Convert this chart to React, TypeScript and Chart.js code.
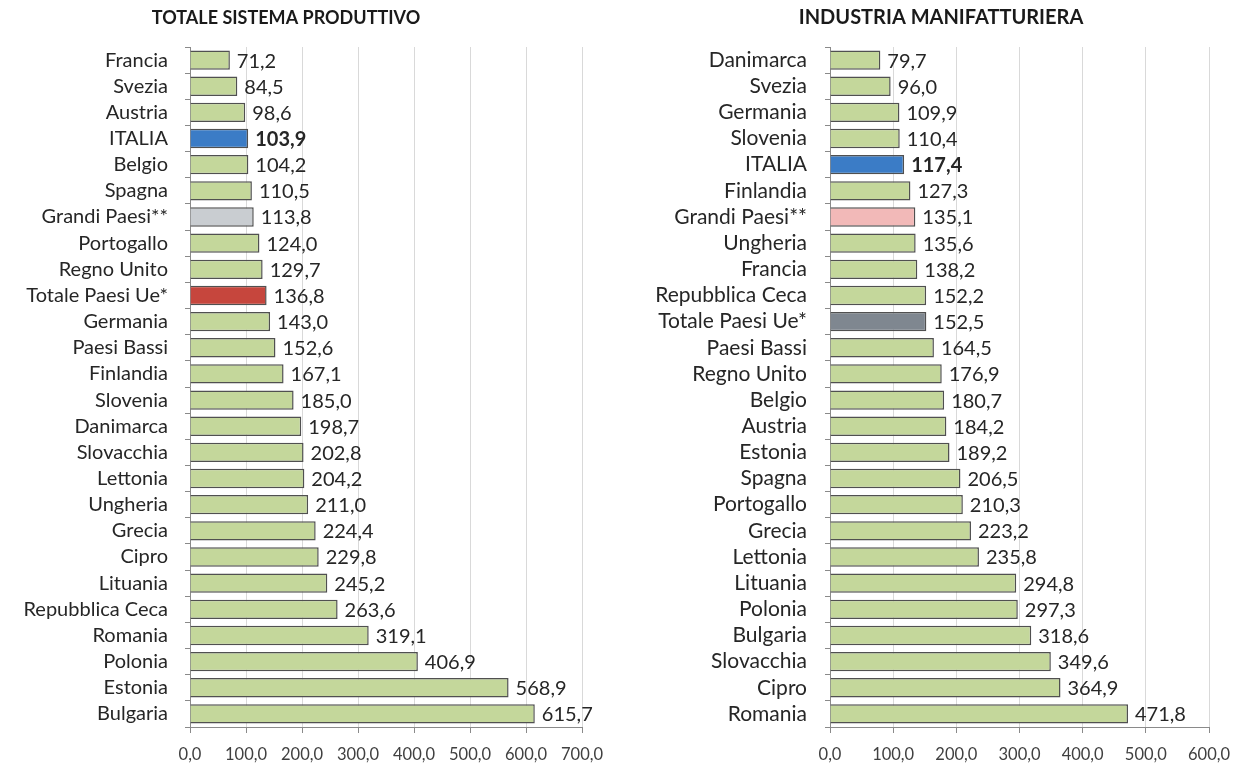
import React, { useEffect, useRef } from "react";
import { Chart, registerables } from "chart.js";

Chart.register(...registerables);

// ---- Data ----
const leftTitle = "TOTALE SISTEMA PRODUTTIVO";
const leftCategories = [
  "Francia", "Svezia", "Austria", "ITALIA", "Belgio", "Spagna", "Grandi Paesi**",
  "Portogallo", "Regno Unito", "Totale Paesi Ue*", "Germania", "Paesi Bassi",
  "Finlandia", "Slovenia", "Danimarca", "Slovacchia", "Lettonia", "Ungheria",
  "Grecia", "Cipro", "Lituania", "Repubblica Ceca", "Romania", "Polonia",
  "Estonia", "Bulgaria",
];
const leftValues = [
  71.2, 84.5, 98.6, 103.9, 104.2, 110.5, 113.8, 124.0, 129.7, 136.8, 143.0, 152.6,
  167.1, 185.0, 198.7, 202.8, 204.2, 211.0, 224.4, 229.8, 245.2, 263.6, 319.1,
  406.9, 568.9, 615.7,
];
const leftAxisMax = 700;

const rightTitle = "INDUSTRIA MANIFATTURIERA";
const rightCategories = [
  "Danimarca", "Svezia", "Germania", "Slovenia", "ITALIA", "Finlandia",
  "Grandi Paesi**", "Ungheria", "Francia", "Repubblica Ceca", "Totale Paesi Ue*",
  "Paesi Bassi", "Regno Unito", "Belgio", "Austria", "Estonia", "Spagna",
  "Portogallo", "Grecia", "Lettonia", "Lituania", "Polonia", "Bulgaria",
  "Slovacchia", "Cipro", "Romania",
];
const rightValues = [
  79.7, 96.0, 109.9, 110.4, 117.4, 127.3, 135.1, 135.6, 138.2, 152.2, 152.5,
  164.5, 176.9, 180.7, 184.2, 189.2, 206.5, 210.3, 223.2, 235.8, 294.8, 297.3,
  318.6, 349.6, 364.9, 471.8,
];
const rightAxisMax = 600;

const tickStep = 100;
const boldCategory = "ITALIA";

// ---- Styles ----
const GREEN = "#c4d79b";
const leftHighlights: Record<string, string> = {
  ITALIA: "#3b7cc6",
  "Grandi Paesi**": "#c9cdd1",
  "Totale Paesi Ue*": "#c6463d",
};
const rightHighlights: Record<string, string> = {
  ITALIA: "#3b7cc6",
  "Grandi Paesi**": "#f2b9b8",
  "Totale Paesi Ue*": "#7f8790",
};

const FONT = "Lato, 'Open Sans', 'DejaVu Sans', sans-serif";
const W = 617;
const H = 771;

const fmt = (v: number) => v.toFixed(1).replace(".", ",");

type PanelProps = {
  title: string;
  titleX: number;
  titleSize: number;
  labelSize: number;
  categories: string[];
  values: number[];
  max: number;
  highlights: Record<string, string>;
  yWidth: number;
  padRight: number;
  labelPad: number;
  left: number;
};

function Panel(props: PanelProps) {
  const ref = useRef<HTMLCanvasElement | null>(null);
  useEffect(() => {
    if (!ref.current) return;
    const colors = props.categories.map((c) => props.highlights[c] || GREEN);

    const valueLabels = {
      id: "valueLabels",
      afterDatasetsDraw(chart: any) {
        const ctx = chart.ctx;
        const meta = chart.getDatasetMeta(0);
        ctx.save();
        ctx.fillStyle = "#262626";
        ctx.textBaseline = "middle";
        ctx.textAlign = "left";
        meta.data.forEach((bar: any, i: number) => {
          const bold = props.categories[i] === boldCategory;
          ctx.font = `${bold ? "bold " : ""}20px ${FONT}`;
          ctx.fillText(fmt(props.values[i]), bar.x + 7, bar.y + 1);
        });
        ctx.restore();
      },
    };
    const titlePlugin = {
      id: "customTitle",
      afterDraw(chart: any) {
        const ctx = chart.ctx;
        ctx.save();
        ctx.fillStyle = "#1a1a1a";
        ctx.font = `bold ${props.titleSize}px ${FONT}`;
        ctx.textAlign = "center";
        ctx.textBaseline = "middle";
        ctx.fillText(props.title, props.titleX, 18);
        ctx.restore();
      },
    };

    const chart = new Chart(ref.current, {
      type: "bar",
      data: {
        labels: props.categories,
        datasets: [
          {
            data: props.values,
            backgroundColor: colors,
            borderColor: "#505050",
            borderWidth: 1.5,
            barPercentage: 0.74,
            categoryPercentage: 1,
          },
        ],
      },
      options: {
        indexAxis: "y",
        responsive: false,
        animation: false,
        devicePixelRatio: 1,
        layout: { padding: { top: 47, right: props.padRight, bottom: 0, left: 0 } },
        plugins: {
          legend: { display: false },
          title: { display: false },
          tooltip: { enabled: false },
        },
        scales: {
          x: {
            min: 0,
            max: props.max,
            afterFit: (s: any) => {
              s.height = 44;
              s.paddingLeft = 0;
              s.paddingRight = 0;
            },
            ticks: {
              stepSize: tickStep,
              callback: (v: any) => fmt(Number(v)),
              font: { family: FONT, size: 16.5 },
              color: "#404040",
              padding: 12,
              maxRotation: 0,
              autoSkip: false,
            },
            grid: {
              color: "#d9d9d9",
              tickColor: "#8a8a8a",
              tickLength: 6,
            },
            border: { display: true, color: "#8a8a8a" },
          },
          y: {
            afterFit: (s: any) => {
              s.width = props.yWidth;
            },
            ticks: {
              font: { family: FONT, size: props.labelSize },
              color: "#262626",
              padding: props.labelPad,
              autoSkip: false,
            },
            grid: {
              drawOnChartArea: false,
              offset: true,
              tickLength: 5,
              color: "#8a8a8a",
            },
            border: { display: true, color: "#8a8a8a" },
          },
        },
      },
      plugins: [valueLabels, titlePlugin],
    } as any);
    return () => chart.destroy();
  }, []);

  return (
    <canvas
      ref={ref}
      width={W}
      height={H}
      style={{ position: "absolute", top: 0, left: props.left, width: W, height: H }}
    />
  );
}

export default function App() {
  return (
    <div
      style={{
        position: "absolute",
        top: 0,
        left: 0,
        width: 1234,
        height: 771,
        background: "#ffffff",
        overflow: "hidden",
      }}
    >
      <Panel
        title={leftTitle}
        titleX={286}
        titleSize={18}
        labelSize={20}
        categories={leftCategories}
        values={leftValues}
        max={leftAxisMax}
        highlights={leftHighlights}
        yWidth={190}
        padRight={35}
        labelPad={17}
        left={0}
      />
      <Panel
        title={rightTitle}
        titleX={324}
        titleSize={20}
        labelSize={21}
        categories={rightCategories}
        values={rightValues}
        max={rightAxisMax}
        highlights={rightHighlights}
        yWidth={213}
        padRight={25}
        labelPad={18}
        left={617}
      />
    </div>
  );
}
